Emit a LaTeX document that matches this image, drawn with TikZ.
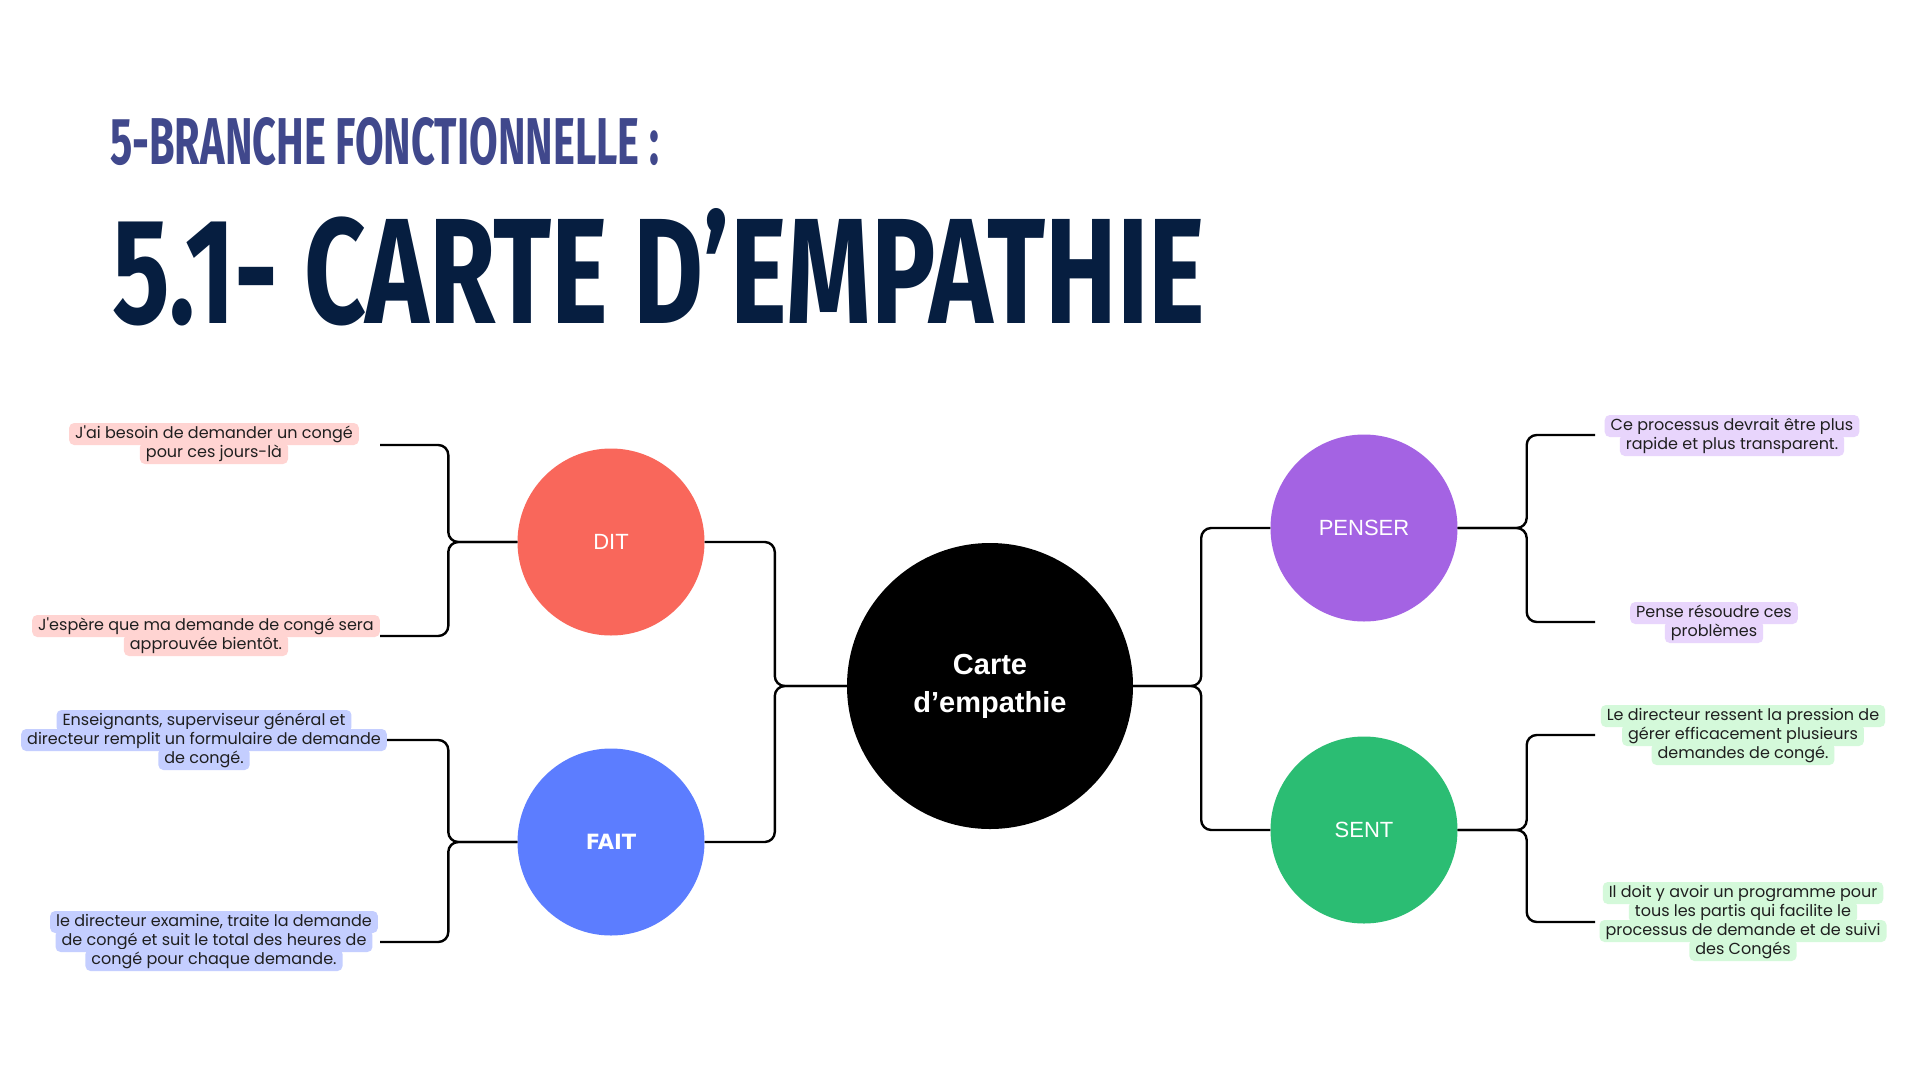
\documentclass[tikz,border=0pt]{standalone}
\usepackage{fontspec}
\setmainfont{Poppins}
\newfontfamily\headfont{Fira Sans}
\newfontfamily\labelfont{Liberation Sans}
\newfontfamily\faitfont{DejaVu Sans}

\definecolor{subblue}{RGB}{64,72,140}
\definecolor{navy}{RGB}{6,30,64}
\definecolor{ditred}{RGB}{249,103,91}
\definecolor{faitblue}{RGB}{92,125,255}
\definecolor{penpurple}{RGB}{164,99,227}
\definecolor{sentgreen}{RGB}{43,189,115}
\definecolor{ditbg}{RGB}{255,212,210}
\definecolor{faitbg}{RGB}{196,206,255}
\definecolor{penbg}{RGB}{232,213,252}
\definecolor{sentbg}{RGB}{212,249,218}

% one highlighted line per entry
\newcommand\leaf[5]{%
  \foreach \txt [count=\i from 0] in {#5}
    \node[leafline, fill=#2] (#1-\i) at (#3, #4+\i*19) {\txt};
}

\begin{document}
\begin{tikzpicture}[x=1pt,y=-1pt,
  link/.style={line width=2.4pt, rounded corners=10pt},
  bubble/.style={circle, minimum size=187pt, inner sep=0pt, text=white,
    font=\labelfont\fontsize{22}{26}\selectfont},
  leafline/.style={rounded corners=5pt, inner xsep=6pt, inner ysep=2.5pt,
    text height=12.5pt, text depth=4.5pt, text=black!88,
    font=\fontsize{16}{19}\selectfont}]

  \useasboundingbox[fill=white] (0,0) rectangle (1920,1080);

  % title
  \node[anchor=base west, inner sep=0pt, text=subblue] (subtitle) at (110,164)
    {\resizebox{549pt}{47pt}{\headfont\bfseries 5-BRANCHE FONCTIONNELLE :}};
  \node[anchor=base west, inner sep=0pt, text=navy] (title) at (112,323)
    {\resizebox{1092pt}{115pt}{\headfont\bfseries 5.1- CARTE D’EMPATHIE}};

  % circles
  \node[circle, fill=black, minimum size=286pt, inner sep=0pt, align=center,
    text=white, font=\labelfont\bfseries\fontsize{29}{38}\selectfont]
    (carte) at (990,686) {Carte\\d’empathie};
  \node[bubble, fill=ditred] (dit) at (611,542) {DIT};
  \node[bubble, fill=faitblue, font=\faitfont\bfseries\fontsize{21}{26}\selectfont]
    (fait) at (611,842) {FAIT};
  \node[bubble, fill=penpurple] (penser) at (1364,528) {PENSER};
  \node[bubble, fill=sentgreen] (sent) at (1364,830) {SENT};

  % leaf ends
  \coordinate (dit-a) at (380,445);
  \coordinate (dit-b) at (380,636);
  \coordinate (fait-a) at (387,740);
  \coordinate (fait-b) at (380,942);
  \coordinate (pen-a) at (1595,435);
  \coordinate (pen-b) at (1595,622);
  \coordinate (sent-a) at (1595,735);
  \coordinate (sent-b) at (1595,922);

  % connectors
  \draw[link] (carte.west) -- ++(-72,0) |- (dit.east);
  \draw[link] (carte.west) -- ++(-72,0) |- (fait.east);
  \draw[link] (carte.east) -- ++(68,0) |- (penser.west);
  \draw[link] (carte.east) -- ++(68,0) |- (sent.west);
  \draw[link] (dit.west) -- ++(-69,0) |- (dit-a);
  \draw[link] (dit.west) -- ++(-69,0) |- (dit-b);
  \draw[link] (fait.west) -- ++(-69,0) |- (fait-a);
  \draw[link] (fait.west) -- ++(-69,0) |- (fait-b);
  \draw[link] (penser.east) -- ++(69,0) |- (pen-a);
  \draw[link] (penser.east) -- ++(69,0) |- (pen-b);
  \draw[link] (sent.east) -- ++(69,0) |- (sent-a);
  \draw[link] (sent.east) -- ++(69,0) |- (sent-b);

  % leaves
  \leaf{dita}{ditbg}{214}{434}{J\textquotesingle ai besoin de demander un congé, pour ces jours-là}
  \leaf{ditb}{ditbg}{206}{626}{J\textquotesingle espère que ma demande de congé sera, approuvée bientôt.}
  \leaf{faita}{faitbg}{204}{721}{{Enseignants, superviseur général et},
    directeur remplit un formulaire de demande, de congé.}
  \leaf{faitb}{faitbg}{214}{922}{{le directeur examine, traite la demande},
    de congé et suit le total des heures de, congé pour chaque demande.}
  \leaf{pena}{penbg}{1732}{426}{Ce processus devrait être plus, rapide et plus transparent.}
  \leaf{penb}{penbg}{1714}{613}{Pense résoudre ces, problèmes}
  \leaf{senta}{sentbg}{1743}{716}{Le directeur ressent la pression de,
    gérer efficacement plusieurs, demandes de congé.}
  \leaf{sentb}{sentbg}{1743}{893}{Il doit y avoir un programme pour,
    tous les partis qui facilite le, processus de demande et de suivi, des Congés}
\end{tikzpicture}
\end{document}
